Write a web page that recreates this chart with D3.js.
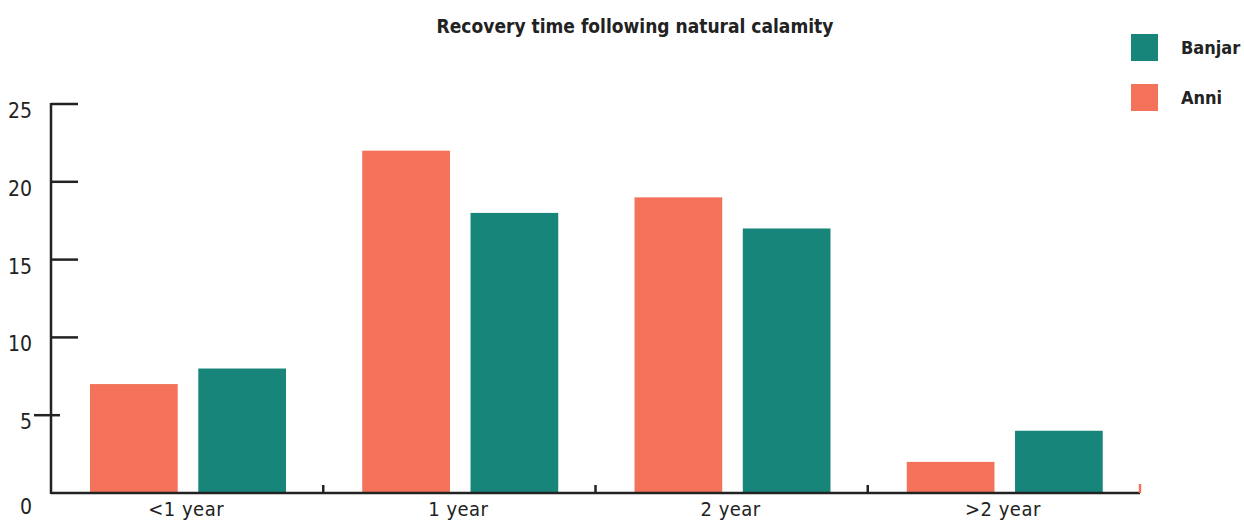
<!DOCTYPE html>
<html><head><meta charset="utf-8">
<script src="https://cdn.jsdelivr.net/npm/d3@7"></script>
<style>body{margin:0;background:#fff}text{font-family:"DejaVu Sans Condensed","Liberation Sans Narrow",sans-serif;fill:#222}</style>
</head><body>
<svg id="c" width="1244" height="522"></svg>
<script>
const categories = ["<1 year", "1 year", "2 year", ">2 year"];
const seriesNames = ["Anni", "Banjar"];
const anni = [7, 22, 19, 2];
const banjar = [8, 18, 17, 4];
const yTicks = [0, 5, 10, 15, 20, 25];
const colors = {Anni: "#F4725A", Banjar: "#17857A"};
const legendOrder = ["Banjar", "Anni"];

const svg = d3.select("#c");
const x0 = 51, x1 = 1140, yB = 493, yT = 104;
const x = d3.scaleBand().domain(categories).range([x0, x1]);
const xs = d3.scaleBand().domain(seriesNames).range([39, 235]).paddingInner(0.19);
const y = d3.scaleLinear().domain([0, 25]).range([yB, yT]);
const values = {Anni: anni, Banjar: banjar};

const g = svg.append("g");
categories.forEach((c, i) => {
  seriesNames.forEach(s => {
    g.append("rect").attr("x", x(c) + xs(s)).attr("width", xs.bandwidth())
      .attr("y", y(values[s][i])).attr("height", yB - y(values[s][i]))
      .attr("fill", colors[s]);
  });
});

// y axis
svg.append("line").attr("x1", x0).attr("x2", x0).attr("y1", yT - 1).attr("y2", yB + 1)
  .attr("stroke", "#222").attr("stroke-width", 2.5);
yTicks.forEach(t => {
  if (t === 0) return;
  const a = t === 5 ? x0 - 17 : x0, b = t === 5 ? x0 + 9 : x0 + 27;
  svg.append("line").attr("x1", a).attr("x2", b).attr("y1", y(t)).attr("y2", y(t))
    .attr("stroke", "#222").attr("stroke-width", 2.5);
  svg.append("text").attr("x", 32).attr("y", y(t) + 14).attr("text-anchor", "end")
    .attr("font-size", 21).text(t);
});
svg.append("text").attr("x", 32).attr("y", y(0) + 21).attr("text-anchor", "end")
  .attr("font-size", 21).text(0);

// x axis
svg.append("line").attr("x1", x0).attr("x2", x1).attr("y1", yB).attr("y2", yB)
  .attr("stroke", "#222").attr("stroke-width", 2.5);
categories.slice(1).forEach(c => {
  svg.append("line").attr("x1", x(c)).attr("x2", x(c)).attr("y1", yB).attr("y2", yB - 8)
    .attr("stroke", "#222").attr("stroke-width", 2.5);
});
svg.append("line").attr("x1", x1).attr("x2", x1).attr("y1", yB).attr("y2", yB - 9)
  .attr("stroke", colors.Anni).attr("stroke-width", 2.5);
categories.forEach(c => {
  svg.append("text").attr("x", x(c) + x.bandwidth() / 2 - 1).attr("y", 516)
    .attr("text-anchor", "middle").attr("font-size", 20).attr("letter-spacing", 0.5).text(c);
});

// title
svg.append("text").attr("x", 635).attr("y", 33).attr("text-anchor", "middle")
  .attr("font-size", 19).attr("font-weight", "bold").text("Recovery time following natural calamity");

// legend
legendOrder.forEach((s, i) => {
  const ly = 34 + i * 50;
  svg.append("rect").attr("x", 1131).attr("y", ly).attr("width", 27).attr("height", 27).attr("fill", colors[s]);
  svg.append("text").attr("x", 1181).attr("y", ly + 20).attr("font-size", 18).attr("font-weight", "bold").text(s);
});
</script>
</body></html>
